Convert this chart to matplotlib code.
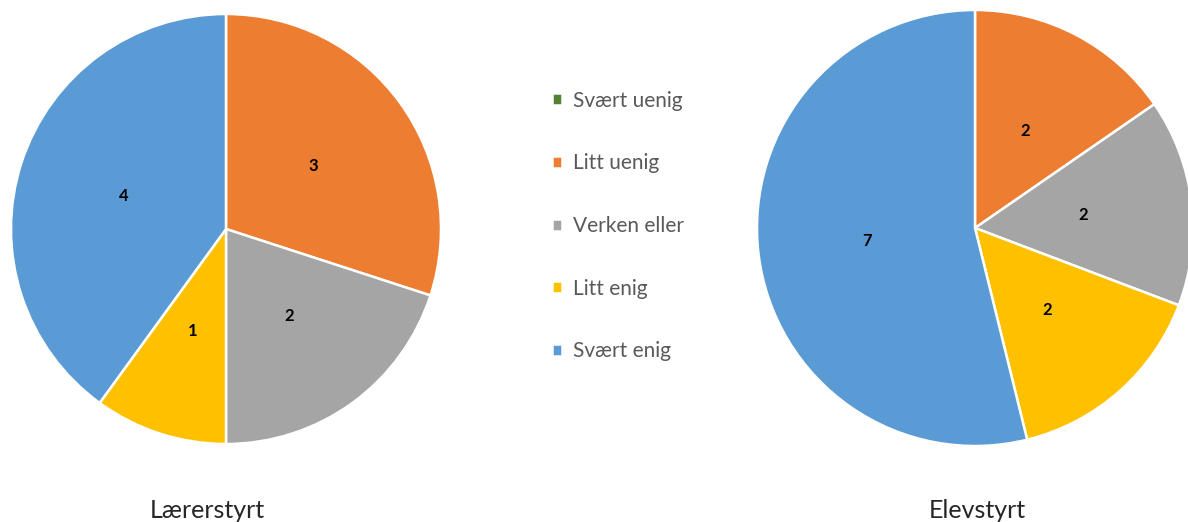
import matplotlib.pyplot as plt

# =========================
# DATA
# =========================

categories = [
    "Svært uenig",
    "Litt uenig",
    "Verken eller",
    "Litt enig",
    "Svært enig"
]

laererstyrt = [0, 3, 2, 1, 4]

elevstyrt = [0, 2, 2, 2, 7]

colors = [
    "#548235",
    "#ED7D31",
    "#A5A5A5",
    "#FFC000",
    "#5B9BD5"
]

plt.rcParams["font.family"] = ["Lato", "DejaVu Sans"]

W, H = 1188, 522

fig = plt.figure(figsize=(W / 100, H / 100), dpi=100)


def count_label(values):
    total = sum(values)

    def fmt(pct):
        n = round(pct * total / 100)
        return str(n) if n > 0 else ""

    return fmt


def draw_pie(values, cx, cy, r):
    # axes box in pixels, centred on the pie
    ax = fig.add_axes([
        (cx - r) / W,
        1 - (cy + r) / H,
        2 * r / W,
        2 * r / H
    ])
    wedges, _, autotexts = ax.pie(
        values,
        colors=colors,
        startangle=90,
        counterclock=False,
        radius=1,
        autopct=count_label(values),
        pctdistance=0.5,
        wedgeprops={"edgecolor": "white", "linewidth": 1.8},
        textprops={"fontsize": 12, "fontweight": "bold", "color": "black"}
    )
    ax.set_xlim(-1, 1)
    ax.set_ylim(-1, 1)
    ax.axis("off")
    return wedges


# =========================
# PIES
# =========================

wedges = draw_pie(laererstyrt, 226, 229, 215)

draw_pie(elevstyrt, 975, 228, 218)

# =========================
# TITLES
# =========================

fig.text(207 / W, 1 - 510 / H, "Lærerstyrt",
         ha="center", va="center", fontsize=18, color="#262626")

fig.text(977 / W, 1 - 510 / H, "Elevstyrt",
         ha="center", va="center", fontsize=18, color="#262626")

# =========================
# LEGEND
# =========================

fig.legend(
    wedges,
    categories,
    loc="center left",
    bbox_to_anchor=(533 / W, 1 - 226 / H),
    frameon=False,
    fontsize=15,
    labelcolor="#595959",
    handlelength=0.5,
    handleheight=0.5,
    handletextpad=0.5,
    labelspacing=2.05
)

fig.savefig("out.png", dpi=100)
